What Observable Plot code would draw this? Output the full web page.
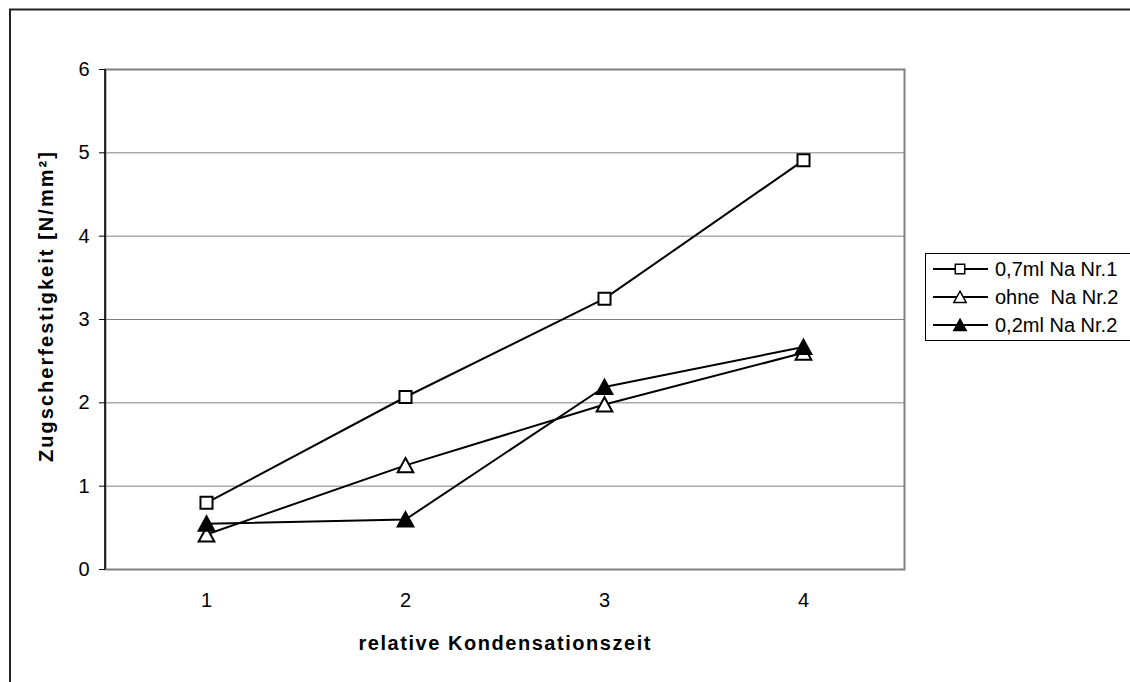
<!DOCTYPE html>
<html>
<head>
<meta charset="utf-8">
<script src="https://cdn.jsdelivr.net/npm/d3@7"></script>
<script src="https://cdn.jsdelivr.net/npm/@observablehq/plot@0.6"></script>
<style>
  html, body { margin: 0; padding: 0; background: #fff; }
  #chart svg { display: block; }
</style>
</head>
<body>
<div id="chart"></div>
<script>
// ---- data ----
const categories = [1, 2, 3, 4];
const seriesNames = ["0,7ml Na Nr.1", "ohne  Na Nr.2", "0,2ml Na Nr.2"];
const values07Nr1 = [0.80, 2.07, 3.25, 4.91];
const valuesOhneNr2 = [0.42, 1.25, 1.98, 2.60];
const values02Nr2 = [0.55, 0.60, 2.19, 2.67];
const yTicks = [0, 1, 2, 3, 4, 5, 6];
const xTitle = "relative Kondensationszeit";
const yTitle = "Zugscherfestigkeit [N/mm²]";

const seriesValues = [values07Nr1, valuesOhneNr2, values02Nr2];
const data = [];
seriesNames.forEach((name, i) => {
  categories.forEach((c, j) => data.push({series: name, x: c, y: seriesValues[i][j]}));
});

// custom marker symbols (size = r^2 * PI)
const squareSym = {draw(ctx, size) {
  const r = Math.sqrt(size / Math.PI), h = r * 0.86;
  ctx.moveTo(-h, -h); ctx.lineTo(h, -h); ctx.lineTo(h, h); ctx.lineTo(-h, h); ctx.closePath();
}};
const triSym = {draw(ctx, size) {
  const r = Math.sqrt(size / Math.PI);
  ctx.moveTo(0, -1.05 * r); ctx.lineTo(1.12 * r, 1.0 * r); ctx.lineTo(-1.12 * r, 1.0 * r); ctx.closePath();
}};
const symbols = [squareSym, triSym, triSym];
const fills = ["white", "white", "black"];

const W = 1130, H = 682;
const font = "'Liberation Sans', Arial, sans-serif";

const plot = Plot.plot({
  width: W, height: H,
  marginLeft: 105, marginRight: 226, marginTop: 69, marginBottom: 113,
  style: {fontFamily: font, fontSize: "20px", color: "black", background: "white", overflow: "hidden"},
  x: {type: "point", domain: categories, padding: 0.5, label: null, axis: null},
  y: {domain: [0, 6], label: null, axis: null},
  symbol: {domain: seriesNames, range: symbols},
  color: {domain: seriesNames, range: fills},
  marks: [
    Plot.ruleY(yTicks.slice(1), {stroke: "#808080", strokeWidth: 1}),
    Plot.frame({stroke: "#808080", strokeWidth: 2}),
    Plot.axisX({tickSize: 0, tickPadding: 23, fill: "black", fontSize: 20}),
    Plot.axisY({ticks: yTicks, tickSize: 6, tickPadding: 10, stroke: "black", fill: "black", fontSize: 20, tickFormat: d => String(d)}),
    Plot.line(data, {x: "x", y: "y", z: "series", stroke: "black", strokeWidth: 2}),
    Plot.dot(data, {x: "x", y: "y", symbol: "series", fill: "series", stroke: "black", strokeWidth: 2, r: 7})
  ]
});

document.getElementById("chart").appendChild(plot);
const svg = d3.select(plot);
const xr = plot.scale("x").range, yr = plot.scale("y").range;

// y axis line (black, along left edge of the plot area)
svg.append("line").attr("x1", xr[0]).attr("x2", xr[0]).attr("y1", yr[0]).attr("y2", yr[1])
  .attr("stroke", "black").attr("stroke-width", 1.5);

// outer border (extends past the picture on right/bottom)
svg.append("rect").attr("x", 10).attr("y", 9.5).attr("width", 1300).attr("height", 900)
  .attr("fill", "none").attr("stroke", "#222").attr("stroke-width", 2);

// axis titles
svg.append("text").attr("x", (xr[0] + xr[1]) / 2).attr("y", 650).attr("text-anchor", "middle")
  .attr("font-family", font).attr("font-size", 20).attr("font-weight", "bold").attr("fill", "black")
  .attr("textLength", 292).attr("lengthAdjust", "spacing").text(xTitle);
svg.append("text").attr("transform", "translate(53,307) rotate(-90)").attr("text-anchor", "middle")
  .attr("font-family", font).attr("font-size", 20).attr("font-weight", "bold").attr("fill", "black")
  .attr("textLength", 310).attr("lengthAdjust", "spacing").text(yTitle);

// legend
const lg = svg.append("g").attr("text-anchor", "start");
lg.append("rect").attr("x", 925.5).attr("y", 253.5).attr("width", 400).attr("height", 87)
  .attr("fill", "white").attr("stroke", "black").attr("stroke-width", 1);
const rowY = [269, 297, 325];
seriesNames.forEach((name, i) => {
  const y = rowY[i];
  lg.append("line").attr("x1", 933).attr("x2", 988).attr("y1", y).attr("y2", y)
    .attr("stroke", "black").attr("stroke-width", 2);
  lg.append("path").attr("transform", `translate(960,${y})`)
    .attr("d", d3.symbol().type(symbols[i]).size(Math.PI * 5.5 * 5.5)())
    .attr("fill", fills[i]).attr("stroke", "black").attr("stroke-width", 1.5);
  lg.append("text").attr("x", 995).attr("y", y + 7).attr("font-family", font).attr("font-size", 20)
    .attr("text-anchor", "start").attr("fill", "black").style("white-space", "pre").text(name);
});
</script>
</body>
</html>
